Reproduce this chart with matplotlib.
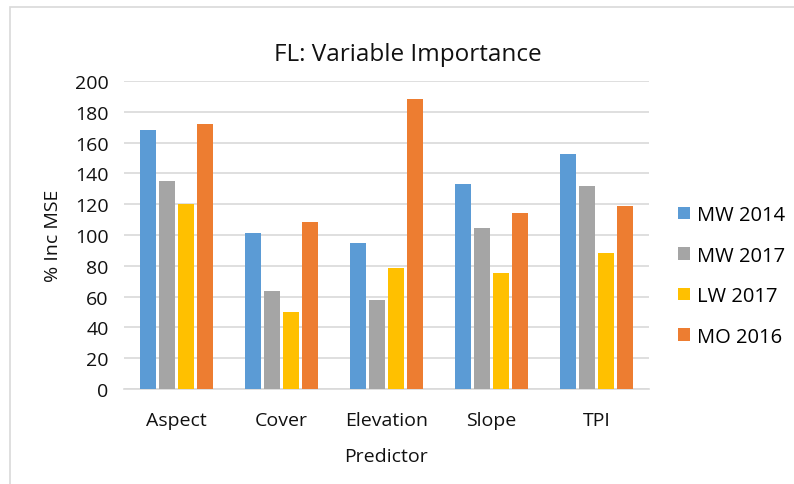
import numpy as np
import matplotlib
matplotlib.use("Agg")
import matplotlib.pyplot as plt
from matplotlib.patches import Rectangle

plt.rcParams['font.family'] = ['Open Sans', 'DejaVu Sans']

predictors = ["Aspect", "Cover", "Elevation", "Slope", "TPI"]
series = ["MW 2014", "MW 2017", "LW 2017", "MO 2016"]
mw_2014 = [168.4, 101.6, 94.7, 133.4, 152.4]
mw_2017 = [134.9, 63.6, 57.7, 104.6, 131.5]
lw_2017 = [120.0, 49.7, 78.5, 75.5, 88.2]
mo_2016 = [172.1, 108.3, 188.1, 114.2, 118.9]
colors = ["#5B9BD5", "#A5A5A5", "#FFC000", "#ED7D31"]

fig = plt.figure(figsize=(7.94, 4.85), dpi=100)
ax = fig.add_axes([124/794, 95/485, 525/794, 308/485])

# outer chart border (cropped on the right and bottom)
fig.patches.append(Rectangle((9.5/794, -0.1), 1.2, (477/485) + 0.1,
                             transform=fig.transFigure, fill=False,
                             edgecolor="#d9d9d9", linewidth=1.2))

x = np.arange(len(predictors))
step = 0.181
bw = 0.145
for i, (vals, c) in enumerate(zip([mw_2014, mw_2017, lw_2017, mo_2016], colors)):
    ax.bar(x + (i - 1.5) * step, vals, width=bw, color=c, label=series[i], zorder=3)

ax.set_xlim(-0.5, len(predictors) - 0.5)
ax.set_ylim(0, 200)
ax.set_yticks(np.arange(0, 201, 20))
ax.set_xticks(x)
ax.set_xticklabels(predictors)
ax.tick_params(axis="both", length=0, labelsize=14, colors="#111111")
ax.tick_params(axis="y", pad=11)
ax.tick_params(axis="x", pad=16)
ax.grid(axis="y", color="#d9d9d9", linewidth=1.2, zorder=0)
for s in ["top", "right", "left"]:
    ax.spines[s].set_visible(False)
ax.spines["bottom"].set_color("#d9d9d9")
ax.spines["bottom"].set_linewidth(1.2)

ax.set_ylabel("% Inc MSE", fontsize=14, color="#111111", labelpad=9)
ax.set_xlabel("Predictor", fontsize=14, color="#111111", labelpad=13)
fig.text(408/794, 1 - 55/485, "FL: Variable Importance", fontsize=17.5,
         ha="center", va="center", color="#111111")

fig.legend(loc="upper left", bbox_to_anchor=(678/794, 1 - 206/485),
           frameon=False, fontsize=14.5, handlelength=0.6, handleheight=0.6,
           handletextpad=0.35, labelspacing=1.02, borderpad=0,
           borderaxespad=0)

fig.savefig("out.png", dpi=100)
